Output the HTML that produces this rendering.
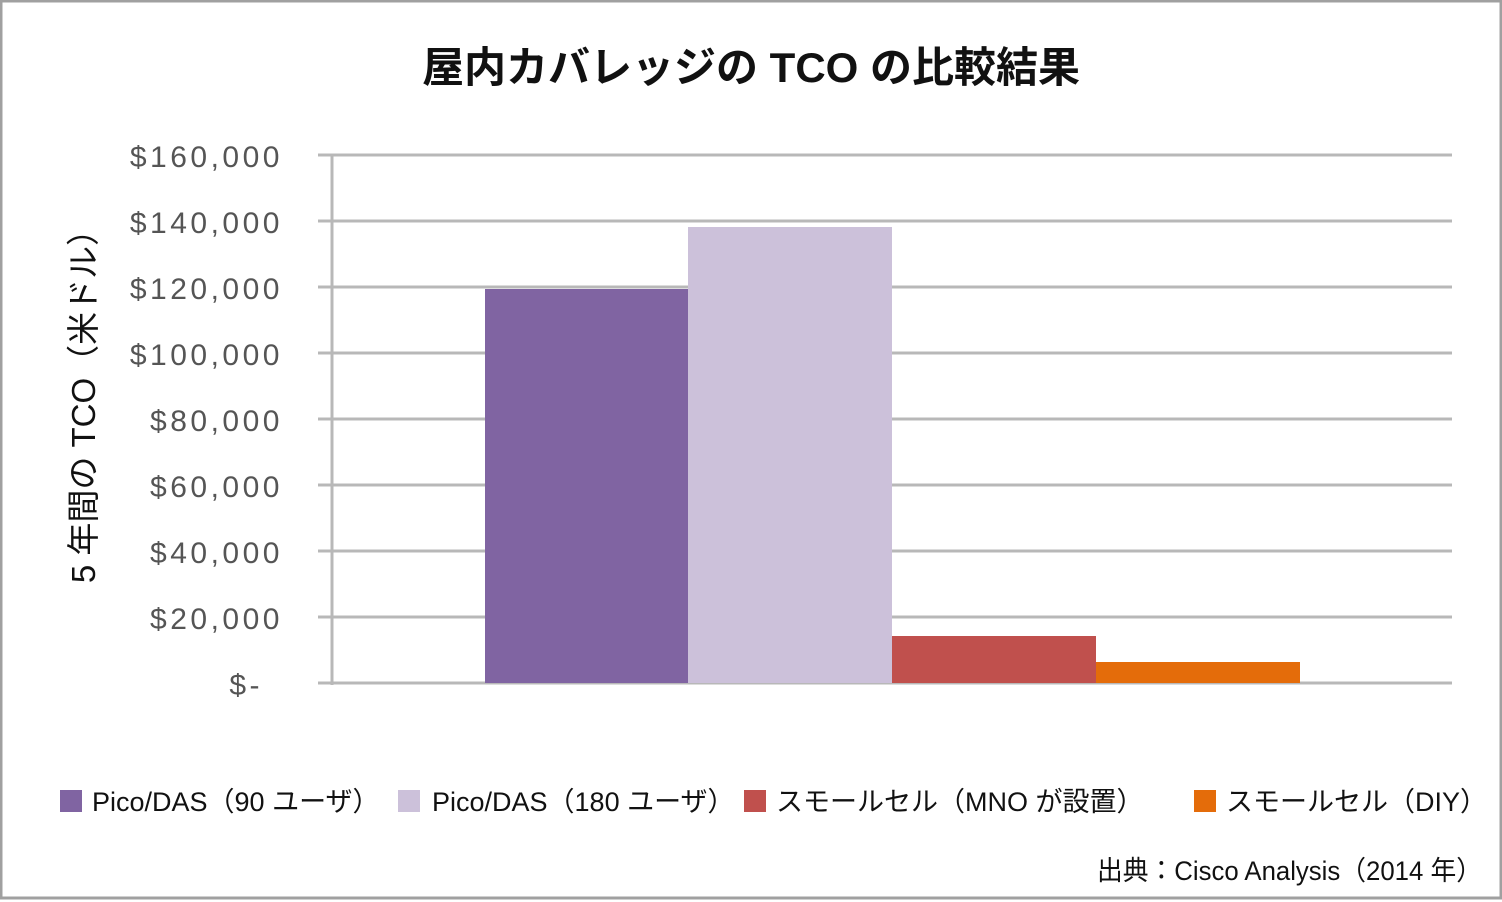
<!DOCTYPE html>
<html><head><meta charset="utf-8"><style>
body{margin:0;background:#fff}
svg{display:block}
text{font-family:"Liberation Sans","Noto Sans CJK JP",sans-serif}
</style></head><body>
<svg width="1502" height="902" viewBox="0 0 1502 902">
<rect x="1" y="1" width="1500" height="897" fill="#fff" stroke="#a0a0a0" stroke-width="3"/>
<text x="751" y="82" text-anchor="middle" font-size="42" font-weight="bold" fill="#111">屋内カバレッジの TCO の比較結果</text>
<g stroke="#b8b8b8" stroke-width="3">
<line x1="318" y1="155" x2="1452" y2="155"/>
<line x1="318" y1="221" x2="1452" y2="221"/>
<line x1="318" y1="287" x2="1452" y2="287"/>
<line x1="318" y1="353" x2="1452" y2="353"/>
<line x1="318" y1="419" x2="1452" y2="419"/>
<line x1="318" y1="485" x2="1452" y2="485"/>
<line x1="318" y1="551" x2="1452" y2="551"/>
<line x1="318" y1="617" x2="1452" y2="617"/>
<line x1="318" y1="683" x2="1452" y2="683"/>
<line x1="332" y1="155" x2="332" y2="685"/>
</g>
<rect x="485" y="289" width="203" height="394" fill="#8064a2"/>
<rect x="688" y="227" width="204" height="456" fill="#ccc1da"/>
<rect x="892" y="636" width="204" height="47" fill="#c0504d"/>
<rect x="1096" y="662" width="204" height="21" fill="#e46c0a"/>
<g font-size="30" fill="#555" text-anchor="end" letter-spacing="3.5">
<text x="283" y="167">$160,000</text>
<text x="283" y="233">$140,000</text>
<text x="283" y="299">$120,000</text>
<text x="283" y="365">$100,000</text>
<text x="283" y="431">$80,000</text>
<text x="283" y="497">$60,000</text>
<text x="283" y="563">$40,000</text>
<text x="283" y="629">$20,000</text>
<text x="263" y="695">$-</text>
</g>
<text transform="translate(95,398) rotate(-90)" text-anchor="middle" font-size="33" fill="#111">5 年間の TCO（米ドル）</text>
<g font-size="27" fill="#111">
<rect x="60" y="790" width="22" height="22" fill="#8064a2"/>
<text x="92" y="811">Pico/DAS（90 ユーザ）</text>
<rect x="398" y="790" width="22" height="22" fill="#ccc1da"/>
<text x="432" y="811">Pico/DAS（180 ユーザ）</text>
<rect x="744" y="790" width="22" height="22" fill="#c0504d"/>
<text x="776" y="811">スモールセル（MNO が設置）</text>
<rect x="1194" y="790" width="22" height="22" fill="#e46c0a"/>
<text x="1226" y="811">スモールセル（DIY）</text>
<text x="1482" y="880" text-anchor="end" textLength="385" lengthAdjust="spacingAndGlyphs">出典：Cisco Analysis（2014 年）</text>
</g>
</svg>
</body></html>
